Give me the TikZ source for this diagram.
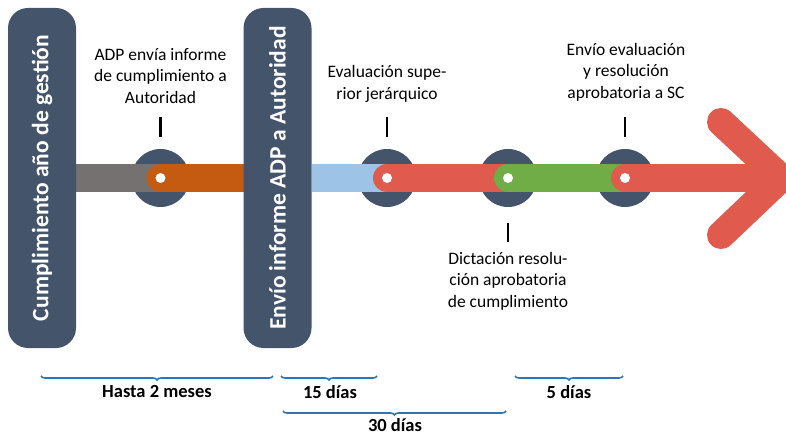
\documentclass[tikz,border=0pt]{standalone}
\usepackage{fontspec}
\setmainfont{Carlito}
\usetikzlibrary{decorations.pathreplacing}
\definecolor{slate}{HTML}{44546A}
\definecolor{greybar}{HTML}{767171}
\definecolor{orangebar}{HTML}{C55A11}
\definecolor{bluebar}{HTML}{9DC3E6}
\definecolor{redbar}{HTML}{E05A4D}
\definecolor{greenbar}{HTML}{70AD47}
\definecolor{bracecol}{HTML}{2E75B6}
\tikzset{
  pillar/.style={fill=slate, rounded corners=20pt, rotate=90, minimum width=340pt, minimum height=68pt, inner sep=0pt, text=white, font=\fontsize{23.5}{27}\selectfont\bfseries},
  stop/.style={circle, fill=slate, minimum size=58pt, inner sep=0pt},
  dot/.style={circle, fill=white, minimum size=10pt, inner sep=0pt},
  bar/.style={line width=28pt},
  tick/.style={line width=2.4pt, black},
  lbl/.style={align=center, font=\fontsize{17.5}{21.5}\selectfont, inner sep=0pt},
  brace/.style={decorate, decoration={brace, mirror, amplitude=4pt}, line width=1.6pt, bracecol},
  blbl/.style={font=\fontsize{18.5}{20}\selectfont\bfseries, inner sep=0pt}
}
\begin{document}
\begin{tikzpicture}[x=1pt,y=-1pt]
\useasboundingbox (0,0) rectangle (786,435);
% stops
\node[stop] (c1) at (160.5,178) {};
\node[stop] (c2) at (387,178) {};
\node[stop] (c3) at (508,178) {};
\node[stop] (c4) at (625,178) {};
% coordinates
\coordinate (g0) at (76,178);
\coordinate (o1) at (243,178);
\coordinate (b0) at (312,178);
\coordinate (tip) at (781,178);
\coordinate (armA) at (721,122);
\coordinate (armB) at (721,235);
% bars
\draw[bar, greybar] (g0) -- (c1.center);
\draw[bar, orangebar, line cap=round] (c1.center) -- (o1);
\draw[bar, bluebar] (b0) -- (c2.center);
\draw[bar, redbar, line cap=round] (c2.center) -- (c3.center);
\draw[bar, greenbar, line cap=round] (c3.center) -- (c4.center);
\draw[bar, redbar, line cap=round] (c4.center) -- (tip);
\draw[bar, redbar, line cap=round, line join=miter] (armA) -- (tip) -- (armB);
% pillars
\node[pillar] (p1) at (42,178) {Cumplimiento año de gestión};
\node[pillar] (p2) at (277.5,178) {Envío informe ADP a Autoridad};
% dots
\node[dot] at (c1) {};
\node[dot] at (c2) {};
\node[dot] at (c3) {};
\node[dot] at (c4) {};
% ticks
\draw[tick] ([yshift=41pt]c1.center) -- ([yshift=61pt]c1.center);
\draw[tick] ([yshift=41pt]c2.center) -- ([yshift=61pt]c2.center);
\draw[tick] ([yshift=41pt]c4.center) -- ([yshift=61pt]c4.center);
\draw[tick] ([yshift=-45pt]c3.center) -- ([yshift=-64pt]c3.center);
% labels
\node[lbl] (l1) at (160.5,76) {ADP envía informe\\de cumplimiento a\\Autoridad};
\node[lbl] (l2) at (387,84) {Evaluación supe-\\rior jerárquico};
\node[lbl] (l4) at (626,72) {Envío evaluación\\y resolución\\aprobatoria a SC};
\node[lbl] (l3) at (508,281) {Dictación resolu-\\ción aprobatoria\\de cumplimiento};
% braces
\coordinate (h0) at (41,376); \coordinate (h1) at (273,376);
\coordinate (q0) at (281,376); \coordinate (q1) at (377,376);
\coordinate (t0) at (283,411); \coordinate (t1) at (506,411);
\coordinate (f0) at (515,376); \coordinate (f1) at (623,376);
\draw[brace] (h0) -- (h1);
\draw[brace] (q0) -- (q1);
\draw[brace] (t0) -- (t1);
\draw[brace] (f0) -- (f1);
\node[blbl] (bh) at (157,392) {Hasta 2 meses};
\node[blbl] (bq) at (330,392) {15 días};
\node[blbl] (bt) at (395,425) {30 días};
\node[blbl] (bf) at (569,392) {5 días};
\end{tikzpicture}
\end{document}
